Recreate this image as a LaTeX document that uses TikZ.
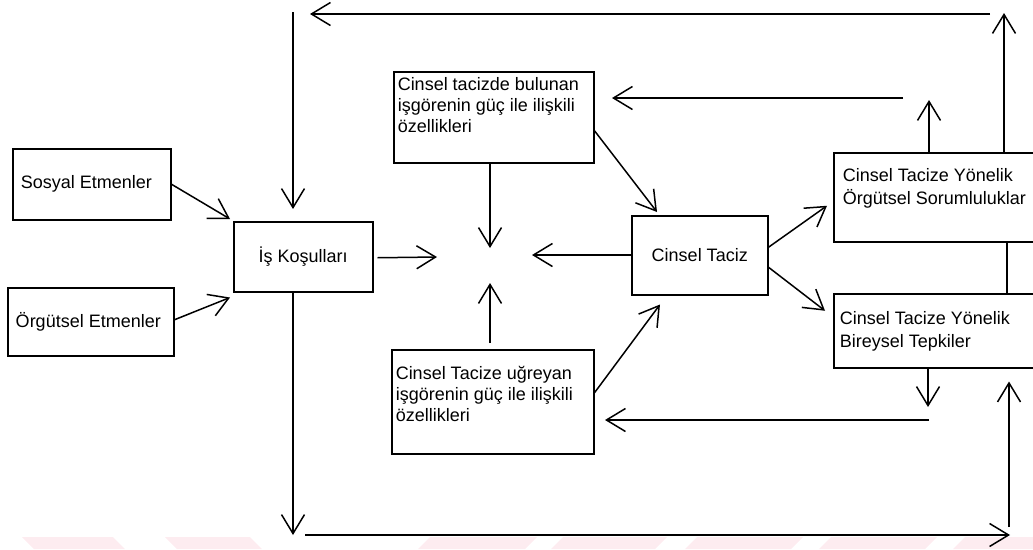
\documentclass[tikz,border=0pt]{standalone}
\usepackage{fontspec}
\setmainfont{Liberation Sans}
\usetikzlibrary{arrows.meta,calc}
\definecolor{wm}{RGB}{253,236,240}
% W, H, vertical pos, left pad, text
\newcommand\bx[5]{\begin{minipage}[t][#2pt][#3]{#1pt}\raggedright\leftskip=#4pt\relax #5\end{minipage}}
\newcommand\bxc[3]{\begin{minipage}[t][#2pt][c]{#1pt}\centering #3\end{minipage}}
\begin{document}
\begin{tikzpicture}[x=1pt,y=-1pt,
  box/.style={draw, inner sep=0pt, line width=1.5pt, anchor=north west},
  arr/.style={line width=1.5pt, -{Straight Barb[length=19pt,width=23pt]}},
  link/.style={line width=1.5pt},
  wmark/.style={fill=wm, draw=none},
  font=\fontsize{18}{21}\selectfont]
\useasboundingbox (0,0) rectangle (1033,549);
\clip (0,0) rectangle (1033,549);

% watermark
\fill[wmark] (22,537) -- (113,537) -- (125,549) -- (34,549) -- cycle;
\fill[wmark] (165,537) -- (250,537) -- (262,549) -- (177,549) -- cycle;
\foreach \a/\b in {430/537, 563/667, 697/803, 831/937, 965/1071}
  \fill[wmark] (\a,537) -- (\b,537) -- (\b-12,549) -- (\a-12,549) -- cycle;

% boxes
\node[box] (sos) at (12,148) {\bx{158}{71}{c}{8}{Sosyal Etmenler}};
\node[box] (org) at (7,287) {\bx{166}{68}{c}{8}{Örgütsel Etmenler}};
\node[box] (is) at (233,221) {\bxc{139}{70}{İş Koşulları}};
\node[box] (top) at (393,71) {\bx{200}{91}{t}{4}{\vspace*{6pt}Cinsel tacizde bulunan\\ işgörenin güç ile ilişkili\\ özellikleri}};
\node[box] (bot) at (391,349) {\bx{202}{104}{t}{4}{\vspace*{16pt}Cinsel Tacize uğreyan\\ işgörenin güç ile ilişkili\\ özellikleri}};
\node[box] (taciz) at (631,215) {\bxc{136}{79}{Cinsel Taciz\\[6pt]}};
\node[box] (ors) at (833,152) {\bx{207}{89}{t}{9}{\fontsize{18}{23}\selectfont\vspace*{16pt}Cinsel Tacize Yönelik\\ Örgütsel Sorumluluklar}};
\node[box] (bir) at (833,293) {\bx{207}{74}{t}{6}{\fontsize{18}{23}\selectfont\vspace*{18pt}Cinsel Tacize Yönelik\\ Bireysel Tepkiler}};

% hub of the four inward arrows
\coordinate (hubW) at (437,257);
\coordinate (hubN) at (490,248);
\coordinate (hubS) at (490,283);
\coordinate (hubE) at (532,255);

\draw[arr] (sos.east) -- ($(is.north west)+(-3,-2)$);
\draw[arr] ($(org.east)+(0,-2)$) -- ($(is.south west)+(-3,5)$);
\draw[arr] ($(is.east)+(4,1)$) -- (hubW);
\draw[arr] (top.south -| hubN) -- (hubN);
\draw[arr] ($(bot.north -| hubS)+(0,-6)$) -- (hubS);
\draw[arr] (taciz.west |- hubE) -- (hubE);

\draw[arr] ($(top.east)+(0,13.5)$) -- ($(taciz.north west)+(26,-3)$);
\draw[arr] ($(bot.east)+(0,-9)$) -- ($(taciz.south west)+(29,9)$);
\draw[arr] ($(taciz.east)+(0,-8)$) -- ($(ors.west)+(-6,8.5)$);
\draw[arr] ($(taciz.east)+(0,12)$) -- ($(bir.west)+(-8,-20)$);

% feedback from organisational responsibilities
\coordinate (o1) at (929,100);
\draw[arr] (ors.north -| o1) -- (o1);
\coordinate (f1s) at (903,98);
\coordinate (f1e) at (612,98);
\draw[arr] (f1s) -- (f1e);
\coordinate (o2) at (1004,13);
\draw[arr] (ors.north -| o2) -- (o2);
\coordinate (t1s) at (990,14);
\coordinate (t1e) at (310,14);
\draw[arr] (t1s) -- (t1e);
\coordinate (d1s) at (293,12);
\draw[arr] (d1s) -- ($(is.north -| d1s)+(0,-12)$);

% from work conditions down and around
\coordinate (b1e) at (293,535);
\draw[arr] (is.south -| d1s) -- (b1e);
\coordinate (b2s) at (305,535);
\coordinate (b2e) at (1010,535);
\draw[arr] (b2s) -- (b2e);
\coordinate (u1s) at (1009,527);
\draw[arr] (u1s) -- ($(bir.south -| u1s)+(0,13)$);

% feedback from individual reactions
\coordinate (d2) at (928,407);
\draw[arr] (bir.south -| d2) -- (d2);
\coordinate (f2s) at (929,420);
\coordinate (f2e) at (605,420);
\draw[arr] (f2s) -- (f2e);

% link between the two right boxes
\coordinate (lk) at (1007,0);
\draw[link] (ors.south -| lk) -- (bir.north -| lk);
\end{tikzpicture}
\end{document}
